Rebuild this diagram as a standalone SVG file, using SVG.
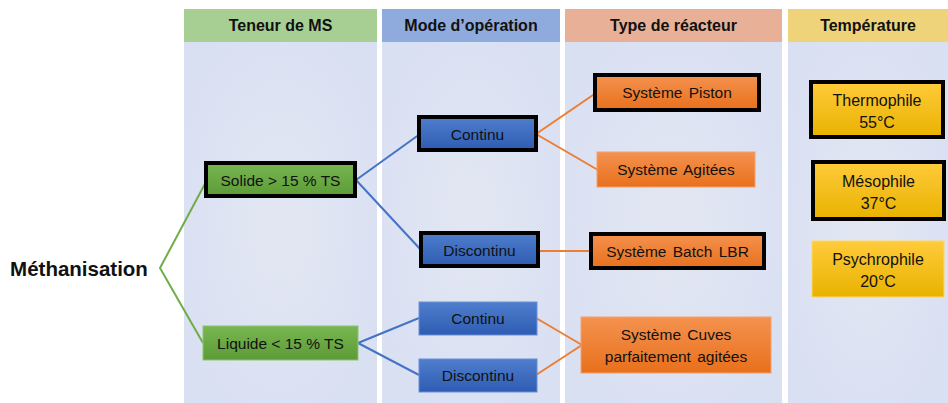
<svg xmlns="http://www.w3.org/2000/svg" width="948" height="403" viewBox="0 0 948 403">
<defs>
<radialGradient id="bg" cx="0.5" cy="0.5" r="0.6">
<stop offset="0" stop-color="#E3E7F3"/><stop offset="1" stop-color="#D9E0F2"/>
</radialGradient>
<linearGradient id="gG" x1="0" y1="0" x2="0" y2="1"><stop offset="0" stop-color="#79B651"/><stop offset="1" stop-color="#5C9B37"/></linearGradient>
<linearGradient id="gB" x1="0" y1="0" x2="0" y2="1"><stop offset="0" stop-color="#4F7ECE"/><stop offset="1" stop-color="#2E5CB2"/></linearGradient>
<linearGradient id="gO" x1="0" y1="0" x2="0" y2="1"><stop offset="0" stop-color="#F4924F"/><stop offset="1" stop-color="#E8701C"/></linearGradient>
<linearGradient id="gY" x1="0" y1="0" x2="0" y2="1"><stop offset="0" stop-color="#FFCB3A"/><stop offset="1" stop-color="#E9B200"/></linearGradient>
</defs>
<style>
text{font-family:"Liberation Sans",Arial,sans-serif;fill:#111;text-anchor:middle}
.h{font-weight:bold;font-size:16px}
.n{font-size:15.5px}
.o{word-spacing:2px}
.y{font-size:16px}
.b{stroke:#000;stroke-width:4}
.lg{stroke:#70AD47;stroke-width:2;fill:none}
.lb{stroke:#4472C4;stroke-width:2;fill:none}
.lo{stroke:#ED7D31;stroke-width:2;fill:none}
</style>
<rect width="948" height="403" fill="#fff"/>
<g id="columns">
<rect x="184" y="42" width="193" height="361" fill="url(#bg)"/>
<rect x="382" y="42" width="178" height="361" fill="url(#bg)"/>
<rect x="565" y="42" width="217" height="361" fill="url(#bg)"/>
<rect x="788" y="42" width="160" height="361" fill="url(#bg)"/>
</g>
<g id="headers">
<rect x="184" y="9" width="193" height="33" fill="#A8CF93"/>
<text class="h" x="280.5" y="31">Teneur de MS</text>
<rect x="382" y="9" width="178" height="33" fill="#8FAADC"/>
<text class="h" x="471" y="31">Mode d’opération</text>
<rect x="565" y="9" width="217" height="33" fill="#E8B096"/>
<text class="h" x="673.5" y="31">Type de réacteur</text>
<rect x="788" y="9" width="160" height="33" fill="#EFD37B"/>
<text class="h" x="868" y="31">Température</text>
</g>
<g id="connectors">
<polyline class="lg" points="207,180 160,268 203,343"/>
<line class="lb" x1="356" y1="180" x2="420" y2="134"/>
<line class="lb" x1="356" y1="180" x2="421" y2="250"/>
<line class="lb" x1="358" y1="343" x2="419" y2="318"/>
<line class="lb" x1="358" y1="343" x2="419" y2="375"/>
<line class="lo" x1="536" y1="134" x2="596" y2="93"/>
<line class="lo" x1="536" y1="134" x2="598" y2="170"/>
<line class="lo" x1="538" y1="251" x2="592" y2="251"/>
<line class="lo" x1="536" y1="318" x2="582" y2="345"/>
<line class="lo" x1="536" y1="375" x2="582" y2="345"/>
</g>
<g id="methanisation">
<text x="79" y="276" style="font-weight:bold;font-size:20.5px">Méthanisation</text>
</g>
<g id="solide">
<rect class="b" x="206" y="163" width="149" height="33" fill="url(#gG)"/>
<text class="n" x="280.5" y="185.5">Solide &gt; 15 % TS</text>
</g>
<g id="liquide">
<rect x="203" y="326" width="155" height="34" fill="url(#gG)" stroke="#8BC470" stroke-width="1"/>
<text class="n" x="280.5" y="348.5">Liquide &lt; 15 % TS</text>
</g>
<g id="continu1">
<rect class="b" x="419" y="117" width="117" height="33" fill="url(#gB)"/>
<text class="n" x="477.5" y="139.5">Continu</text>
</g>
<g id="discontinu1">
<rect class="b" x="421" y="233" width="117" height="33" fill="url(#gB)"/>
<text class="n" x="479.5" y="255.5">Discontinu</text>
</g>
<g id="continu2">
<rect x="419" y="302" width="118" height="33" fill="url(#gB)" stroke="#6A8FD6" stroke-width="1"/>
<text class="n" x="478" y="323.5">Continu</text>
</g>
<g id="discontinu2">
<rect x="419" y="359" width="118" height="33" fill="url(#gB)" stroke="#6A8FD6" stroke-width="1"/>
<text class="n" x="478" y="381">Discontinu</text>
</g>
<g id="piston">
<rect class="b" x="595" y="75" width="164" height="35" fill="url(#gO)"/>
<text class="n o" x="677" y="98">Système Piston</text>
</g>
<g id="agitees">
<rect x="597" y="152" width="158" height="35" fill="url(#gO)" stroke="#F4A070" stroke-width="1"/>
<text class="n o" x="676" y="175">Système Agitées</text>
</g>
<g id="batch">
<rect class="b" x="591" y="234" width="173" height="34" fill="url(#gO)"/>
<text class="n o" x="677.5" y="256.5">Système Batch LBR</text>
</g>
<g id="cuves">
<rect x="581" y="317" width="190" height="56" fill="url(#gO)" stroke="#F4A070" stroke-width="1"/>
<text class="n o" x="676" y="339.5">Système Cuves</text>
<text class="n o" x="676" y="361.5">parfaitement agitées</text>
</g>
<g id="thermophile">
<rect class="b" x="811" y="82" width="132" height="55" fill="url(#gY)"/>
<text class="n y" x="877" y="105.5">Thermophile</text>
<text class="n y" x="877" y="127.5">55°C</text>
</g>
<g id="mesophile">
<rect class="b" x="813" y="162" width="131" height="57" fill="url(#gY)"/>
<text class="n y" x="878.5" y="186.5">Mésophile</text>
<text class="n y" x="878.5" y="208.5">37°C</text>
</g>
<g id="psychrophile">
<rect x="812" y="241" width="132" height="56" fill="url(#gY)" stroke="#FFD863" stroke-width="1"/>
<text class="n y" x="878" y="264.5">Psychrophile</text>
<text class="n y" x="878" y="286.5">20°C</text>
</g>
</svg>
